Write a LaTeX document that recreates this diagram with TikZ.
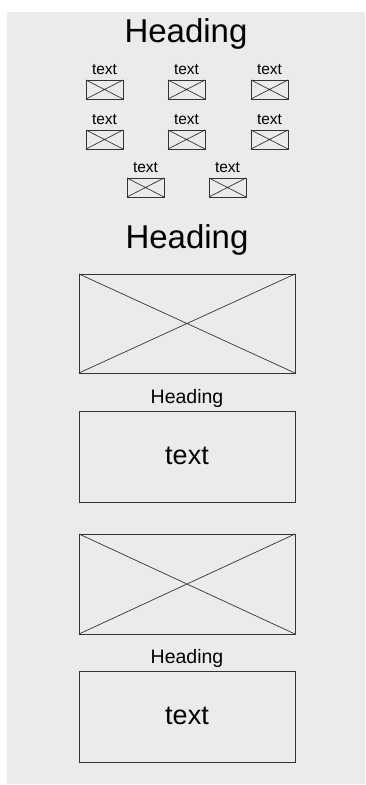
\documentclass[tikz,border=0pt]{standalone}
\usepackage{fontspec}
\setmainfont{Liberation Sans}
\usetikzlibrary{calc}
\definecolor{bg}{HTML}{EBEBEB}
\definecolor{ln}{HTML}{333333}
\begin{document}
\begin{tikzpicture}[x=1pt,y=-1pt,
  frame/.style={draw=ln,line width=0.9pt,inner sep=0pt,outer sep=0pt,anchor=north west},
  xline/.style={draw=ln,line width=0.7pt},
  bigtitle/.style={font=\fontsize{33}{36}\selectfont,anchor=base,inner sep=0pt},
  midtitle/.style={font=\fontsize{19.5}{22}\selectfont,anchor=base,inner sep=0pt},
  boxtext/.style={font=\fontsize{27}{30}\selectfont,anchor=base,inner sep=0pt},
  smalltext/.style={font=\fontsize{15.5}{17}\selectfont,anchor=base,inner sep=0pt}]
\useasboundingbox (0,0) rectangle (365,785);
\fill[bg] (7,12) rectangle (365,784);
\node[bigtitle] (h1) at (186,42) {Heading};
% small icons
\foreach \n/\x/\y in {a/86/80,b/168/80,c/251/80,d/86/130,e/168/130,f/251/130,g/127/178,h/209/178}{
  \node[frame,minimum width=37pt,minimum height=19pt] (i\n) at (\x,\y) {};
  \draw[xline] (i\n.north west) -- (i\n.south east) (i\n.south west) -- (i\n.north east);
  \node[smalltext] (t\n) at ($(i\n.north)+(0,-6)$) {text};
}
\node[bigtitle] (h2) at (187,248) {Heading};
% section 1
\node[frame,minimum width=216pt,minimum height=99pt] (p1) at (79,274) {};
\draw[xline] (p1.north west) -- (p1.south east) (p1.south west) -- (p1.north east);
\node[midtitle] (m1) at (187,403) {Heading};
\node[frame,minimum width=216pt,minimum height=91pt] (b1) at (79,411) {};
\node[boxtext] (bt1) at (187,464) {text};
% section 2
\node[frame,minimum width=216pt,minimum height=100pt] (p2) at (79,534) {};
\draw[xline] (p2.north west) -- (p2.south east) (p2.south west) -- (p2.north east);
\node[midtitle] (m2) at (187,663) {Heading};
\node[frame,minimum width=216pt,minimum height=91pt] (b2) at (79,671) {};
\node[boxtext] (bt2) at (187,724) {text};
\end{tikzpicture}
\end{document}
